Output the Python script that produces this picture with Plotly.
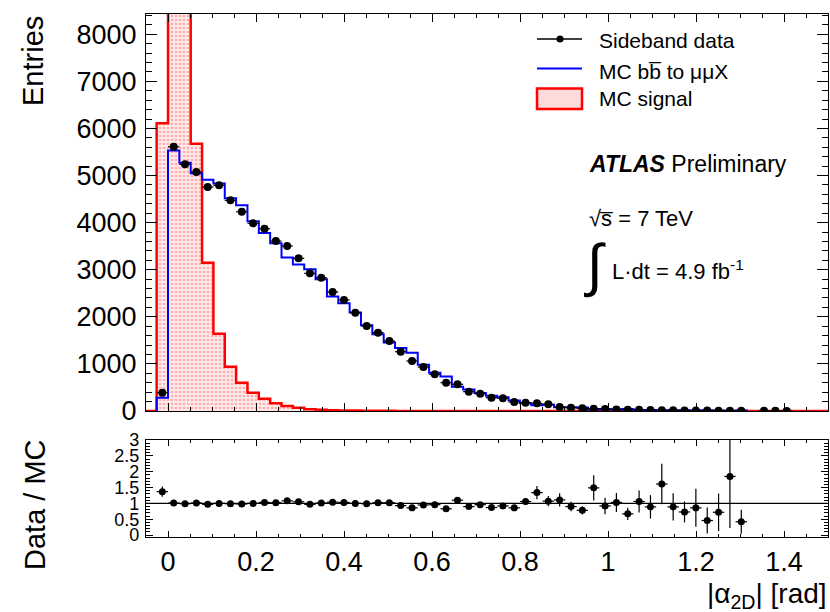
import plotly.graph_objects as go

# ---------------- data ----------------
bin_width = 0.0258          # rad
first_bin = -1              # index of first data bin (bin i spans [i*w, (i+1)*w])

# Sideband data, bins -1 .. 54 (None = empty bin)
data_counts = [389, 5611, 5238, 5074, 4756, 4792, 4473, 4231, 3985, 3870,
               3609, 3503, 3242, 2923, 2830, 2527, 2357, 2087, 1805, 1663,
               1486, 1259, 1062, 934, 779, 601, 567, 410, 367, 282,
               270, 191, 176, 163, 142, 85, 70, 57, 48, 40,
               33, 27, 24, 20, 17, 14, 12, 10, 8, 7,
               6, 4, None, 3, 3, 2]

# MC bb -> mumuX, bins -1 .. 50
mc_bb = [284, 5530, 5270, 5050, 4910, 4830, 4520, 4370, 4030, 3780,
         3560, 3260, 3110, 3010, 2800, 2430, 2290, 2090, 1820, 1630,
         1457, 1340, 1236, 983, 811, 730, 515, 455, 380, 324,
         293, 222, 166, 122, 133, 77, 78, 73, 32, 43,
         32, 40, 23, 22, 11, 16, 16, 12, 17, 10,
         3, 10]

# MC signal, bins -2 .. 58
mc_signal = [0, 6108, 15000, 12000, 5676, 3149, 1641, 941, 601, 389,
             261, 163, 106, 70, 36, 25, 18, 12, 8, 6,
             4, 3, 2, 2, 1, 1, 1, 0, 0, 0,
             0, 0, 0, 0, 0, 0, 0, 0, 0, 0,
             0, 0, 0, 0, 0, 0, 0, 0, 0, 0,
             0, 0, 0, 0, 0, 0, 0, 0, 0, 0, 0]
signal_first_bin = -2

# Data / MC ratio, bins -1 .. 50
ratio = [1.37, 1.01, 0.99, 1.01, 0.97, 1.00, 0.99, 0.98, 1.00, 1.03,
         1.02, 1.08, 1.05, 0.97, 1.01, 1.04, 1.03, 1.00, 0.99, 1.02,
         1.02, 0.93, 0.86, 0.95, 0.96, 0.83, 1.10, 0.90, 0.96, 0.87,
         0.92, 0.86, 1.06, 1.34, 1.07, 1.11, 0.90, 0.78, 1.49, 0.92,
         1.03, 0.67, 1.06, 0.89, 1.61, 0.89, 0.73, 0.86, 0.46, 0.72,
         1.85, 0.42]
ratio_err = [0.16, 0.02, 0.02, 0.02, 0.02, 0.02, 0.02, 0.02, 0.02, 0.02,
             0.02, 0.02, 0.02, 0.02, 0.02, 0.03, 0.03, 0.03, 0.03, 0.03,
             0.03, 0.03, 0.04, 0.04, 0.04, 0.04, 0.05, 0.05, 0.06, 0.06,
             0.07, 0.08, 0.10, 0.21, 0.16, 0.21, 0.15, 0.13, 0.40, 0.26,
             0.30, 0.19, 0.35, 0.37, 0.64, 0.43, 0.33, 0.60, 0.41, 0.59,
             1.63, 0.38]

x_ticks = [0, 0.2, 0.4, 0.6, 0.8, 1, 1.2, 1.4]
x_ticklabels = ["0", "0.2", "0.4", "0.6", "0.8", "1", "1.2", "1.4"]
y_ticks = [0, 1000, 2000, 3000, 4000, 5000, 6000, 7000, 8000]
r_ticks = [0, 0.5, 1, 1.5, 2, 2.5, 3]
r_ticklabels = ["0", "0.5", "1", "1.5", "2", "2.5", "3"]

# ---------------- helpers ----------------
def centers(n, start):
    return [(start + k + 0.5) * bin_width for k in range(n)]

def step(values, start):
    edges = [(start + k) * bin_width for k in range(len(values) + 1)]
    xs = [edges[0]] + edges[:-1] + [edges[-1]]
    ys = [0] + list(values) + [0]
    return xs, ys

FONT = "Liberation Sans, Arial, Helvetica, sans-serif"
W, H = 830, 612
L, R, T, B = 146, 2, 14, 75
PW, PH = W - L - R, H - T - B

def px(x):
    return (x - L) / PW

def py(y):
    return (H - B - y) / PH

fig = go.Figure()

# MC signal (red, dotted fill)
sx, sy = step(mc_signal, signal_first_bin)
fig.add_trace(go.Scatter(
    x=sx, y=sy, mode="lines", line=dict(color="#ff0000", width=2.5, shape="hv"),
    fill="tozeroy", fillcolor="rgba(255,215,215,0.6)",
    fillpattern=dict(shape=".", fgcolor="rgba(255,60,60,0.7)",
                     bgcolor="rgba(255,225,225,0.7)", size=4, solidity=0.35),
    xaxis="x", yaxis="y", showlegend=False, hoverinfo="skip"))

# MC bb (blue)
bx, by = step(mc_bb, first_bin)
fig.add_trace(go.Scatter(
    x=bx, y=by, mode="lines", line=dict(color="#0000ff", width=2, shape="hv"),
    xaxis="x", yaxis="y", showlegend=False, hoverinfo="skip"))

# Sideband data
dc = centers(len(data_counts), first_bin)
fig.add_trace(go.Scatter(
    x=dc, y=data_counts, mode="markers",
    marker=dict(color="black", size=8),
    error_x=dict(type="constant", value=bin_width / 2, color="black", thickness=1.2, width=0),
    xaxis="x", yaxis="y", showlegend=False))

# ratio
rc = centers(len(ratio), first_bin)
fig.add_trace(go.Scatter(
    x=rc, y=ratio, mode="markers",
    marker=dict(color="black", size=7),
    error_x=dict(type="constant", value=bin_width / 2, color="black", thickness=1.2, width=0),
    error_y=dict(type="data", array=ratio_err, color="black", thickness=1.2, width=0),
    xaxis="x2", yaxis="y2", showlegend=False))

axis_common = dict(showline=True, linecolor="black", linewidth=1.2, mirror="ticks",
                   ticks="inside", tickcolor="black", showgrid=False, zeroline=False)

ratio_dom_top = (H - B - 440) / PH
main_dom_bot = (H - B - 411) / PH

fig.update_layout(
    width=W, height=H, margin=dict(l=L, r=R, t=T, b=B),
    paper_bgcolor="white", plot_bgcolor="white",
    font=dict(family=FONT, color="black"),
    xaxis=dict(axis_common, domain=[0, 1], anchor="y", range=[-0.05, 1.5],
               tickvals=x_ticks, ticklen=8, showticklabels=False,
               minor=dict(ticks="inside", ticklen=4, dtick=0.05, tick0=0, tickcolor="black")),
    yaxis=dict(axis_common, domain=[main_dom_bot, 1], anchor="x", range=[0, 8430],
               tickvals=y_ticks, ticklen=11, tickfont=dict(size=27),
               ticklabelstandoff=3,
               minor=dict(ticks="inside", ticklen=6, dtick=200, tick0=0, tickcolor="black")),
    xaxis2=dict(axis_common, domain=[0, 1], anchor="y2", range=[-0.05, 1.5],
                tickvals=x_ticks, ticktext=x_ticklabels, ticklen=6, tickfont=dict(size=27),
                minor=dict(ticks="inside", ticklen=3, dtick=0.05, tick0=0, tickcolor="black")),
    yaxis2=dict(axis_common, domain=[0, ratio_dom_top], anchor="x2", range=[-0.06, 3.0],
                tickvals=r_ticks, ticktext=r_ticklabels, ticklen=7, tickfont=dict(size=18),
                ticklabelstandoff=2,
                minor=dict(ticks="inside", ticklen=4, dtick=0.1, tick0=0, tickcolor="black")),
)

# ratio reference line
fig.add_shape(type="line", xref="x2 domain", yref="y2", x0=0, x1=1, y0=1, y1=1,
              line=dict(color="black", width=1.2))

ann = []
def text(x, y, s, size, xanchor="left", yanchor="middle", angle=0):
    ann.append(dict(x=px(x), y=py(y), xref="paper", yref="paper", text=s, showarrow=False,
                    xanchor=xanchor, yanchor=yanchor, textangle=angle,
                    font=dict(size=size, family=FONT, color="black")))

# axis titles
text(33, 61, "Entries", 29, xanchor="center", yanchor="middle", angle=-90)
text(35, 505, "Data / MC", 29, xanchor="center", yanchor="middle", angle=-90)
text(829, 595, "|α<sub>2D</sub>| [rad]", 28, xanchor="right", yanchor="middle")

# legend
text(597, 40, "Sideband data", 21)
text(597, 71, "MC b\u0062\u0305 to μμX", 21)
text(597, 98, "MC signal", 21)
fig.add_shape(type="line", xref="paper", yref="paper", x0=px(537), x1=px(582), y0=py(39), y1=py(39),
              line=dict(color="black", width=1.5))
fig.add_shape(type="circle", xref="paper", yref="paper", x0=px(556.5), x1=px(563.5), y0=py(35.5), y1=py(42.5),
              fillcolor="black", line=dict(color="black", width=0))
fig.add_shape(type="line", xref="paper", yref="paper", x0=px(537), x1=px(582), y0=py(68.5), y1=py(68.5),
              line=dict(color="#0000ff", width=2))
fig.add_shape(type="rect", xref="paper", yref="paper", x0=px(537), x1=px(582), y0=py(88.5), y1=py(109),
              fillcolor="#ffdada", line=dict(color="#ff0000", width=2.5))

# ATLAS label
text(587, 164, "<b><i>ATLAS</i></b> Preliminary", 23)
text(587, 219, "√s\u0305 = 7 TeV", 22)
text(582, 265, "∫", 58)
text(610, 270, "L·dt = 4.9 fb<sup>-1</sup>", 22)

fig.update_layout(annotations=ann)
fig.write_html("out.html")
